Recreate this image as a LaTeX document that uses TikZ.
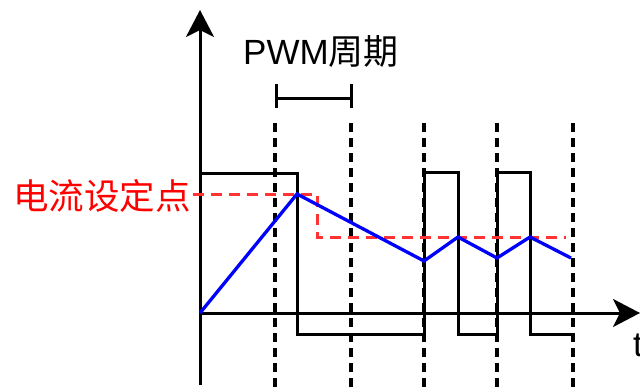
\documentclass[tikz,border=0pt]{standalone}
\usepackage{fontspec}
\setmainfont{Liberation Sans}
\newfontfamily\cjk{Noto Sans CJK SC}
\usetikzlibrary{arrows.meta}
\begin{document}
\begin{tikzpicture}[x=1pt,y=-1pt,
  axis/.style={line width=3pt,-{Stealth[length=27pt,width=28pt,inset=7pt]}},
  wave/.style={line width=3pt,line join=miter},
  guide/.style={line width=3.2pt,dash pattern=on 9pt off 6pt},
  setpt/.style={line width=3pt,red!80!white,dash pattern=on 11pt off 7pt},
  curr/.style={line width=3.3pt,blue},
  lbl/.style={inner sep=0pt,font=\fontsize{35}{40}\selectfont}]
\useasboundingbox (0,0) rectangle (640,388);
% guide lines
\foreach \x/\n in {275/g1,351/g2,424/g3,497/g4,573/g5}{
  \coordinate (\n t) at (\x,123);
  \coordinate (\n b) at (\x,388);
  \draw[guide] (\n t) -- (\n b);
}
% axes
\coordinate (o) at (200,313);
\coordinate (ybot) at (200,385);
\coordinate (ytop) at (200,10);
\coordinate (xend) at (640,313);
\draw[axis] (ybot) -- (ytop);
\draw[axis] (o) -- (xend);
\node[lbl,anchor=center] (t) at (638,345) {t};
% PWM waveform
\draw[wave] (200,173) -- (297,173) -- (297,334) -- (424,334) -- (424,172) -- (458,172) -- (458,334) -- (497,334) -- (497,172) -- (530,172) -- (530,334) -- (573,334);
% set point
\draw[setpt] (193,194) -- (317,194) -- (317,237) -- (566,237);
% current
\draw[curr,line join=miter] (o) -- (297,194) -- (424,261) -- (458,237) -- (497,258) -- (530,237) -- (571,258);
% bracket
\coordinate (b1) at (276,98);
\coordinate (b2) at (351,98);
\draw[line width=3pt] (b1) -- (b2);
\draw[line width=3pt] (276,84) -- (276,108);
\draw[line width=3pt] (351,84) -- (351,108);
\node[lbl] (pwm) at (321,52) {PWM{\cjk 周期}};
\node[lbl,text=red,font=\cjk\fontsize{35.5}{40}\selectfont] (sp) at (102,196) {电流设定点};
\end{tikzpicture}
\end{document}
